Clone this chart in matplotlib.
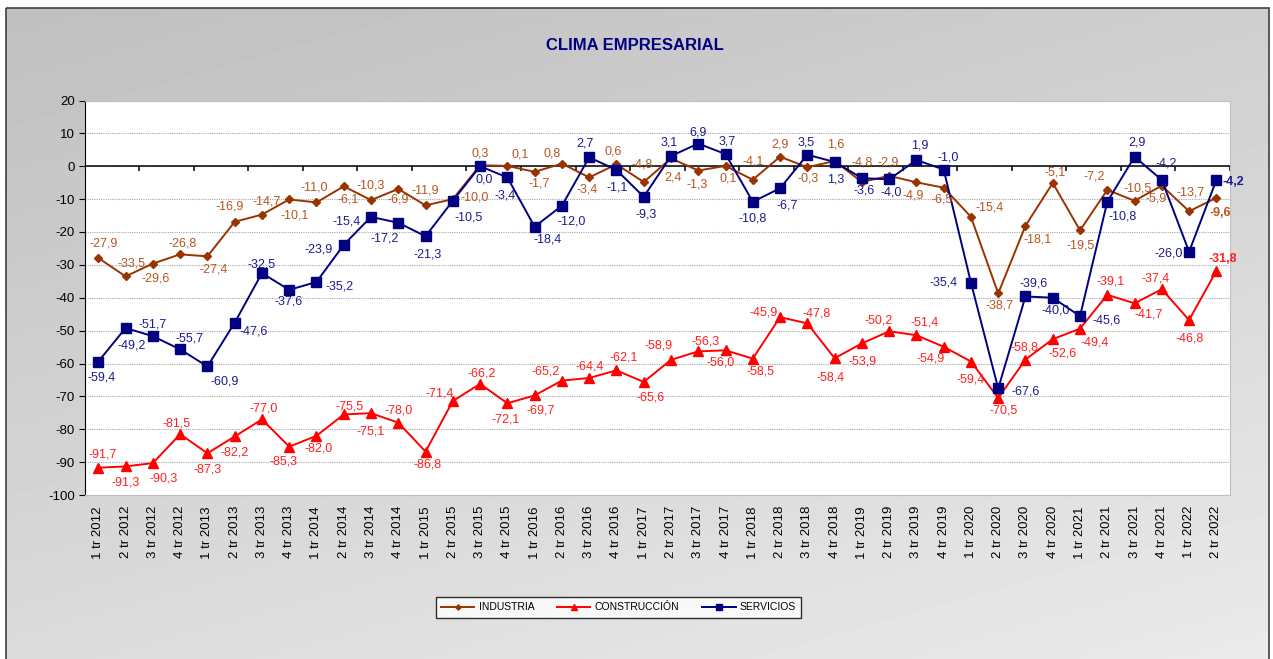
import matplotlib
matplotlib.use("Agg")
import matplotlib.pyplot as plt
import numpy as np
from matplotlib.patches import Rectangle

plt.rcParams['font.family'] = ['Liberation Sans', 'DejaVu Sans']
plt.rcParams['axes.unicode_minus'] = False

# quarters 1 tr 2012 .. 2 tr 2022
quarters = [f"{q} tr {y}" for y in range(2012, 2023) for q in range(1, 5)][:42]

industria = [-27.9, -33.5, -29.6, -26.8, -27.4, -16.9, -14.7, -10.1, -11.0, -6.1,
             -10.3, -6.9, -11.9, -10.0, 0.3, 0.1, -1.7, 0.8, -3.4, 0.6,
             -4.8, 2.4, -1.3, 0.1, -4.1, 2.9, -0.3, 1.6, -4.8, -2.9,
             -4.9, -6.5, -15.4, -38.7, -18.1, -5.1, -19.5, -7.2, -10.5, -5.9,
             -13.7, -9.6]
construccion = [-91.7, -91.3, -90.3, -81.5, -87.3, -82.2, -77.0, -85.3, -82.0, -75.5,
                -75.1, -78.0, -86.8, -71.4, -66.2, -72.1, -69.7, -65.2, -64.4, -62.1,
                -65.6, -58.9, -56.3, -56.0, -58.5, -45.9, -47.8, -58.4, -53.9, -50.2,
                -51.4, -54.9, -59.4, -70.5, -58.8, -52.6, -49.4, -39.1, -41.7, -37.4,
                -46.8, -31.8]
servicios = [-59.4, -49.2, -51.7, -55.7, -60.9, -47.6, -32.5, -37.6, -35.2, -23.9,
             -15.4, -17.2, -21.3, -10.5, 0.0, -3.4, -18.4, -12.0, 2.7, -1.1,
             -9.3, 3.1, 6.9, 3.7, -10.8, -6.7, 3.5, 1.3, -3.6, -4.0,
             1.9, -1.0, -35.4, -67.6, -39.6, -40.0, -45.6, -10.8, 2.9, -4.2,
             -26.0, -4.2]

# label offsets in pixels (dx, dy up)
off_ind = [(5, 14), (6, 13), (3, -15), (2, 11), (6, -13), (-5, 15), (5, 13), (5, -16),
           (-2, 15), (4, -13), (0, 15), (0, -11), (0, 15), (22, 2), (0, 12), (13, 11),
           (5, -12), (-10, 10), (-2, -12), (-3, 13), (-2, 18), (2, -19), (-1, -14),
           (3, -13), (0, 18), (0, 12), (1, -11), (1, 16), (0, 20), (-1, 13), (-3, -13),
           (-2, -12), (19, 9), (1, -12), (12, -14), (2, 11), (1, -15), (-13, 13),
           (3, 12), (-6, -13), (2, 19), (4, -15)]
off_con = [(4, 13), (0, -16), (11, -15), (-4, 11), (0, -16), (0, -16), (2, 11), (-6, -15),
           (2, -13), (6, 8), (0, -18), (0, 12), (2, -13), (-13, 7), (2, 10), (-2, -16),
           (6, -15), (-16, 9), (1, 11), (7, 13), (7, -16), (-12, 14), (7, 10), (-5, -12),
           (8, -13), (-16, 5), (9, 10), (-4, -19), (1, -18), (-11, 11), (8, 13),
           (-13, -12), (0, -18), (5, -12), (-1, 12), (10, -14), (15, -14), (3, 13),
           (14, -11), (-6, 11), (1, -18), (6, 12)]
off_ser = [(3, -16), (6, -18), (0, 12), (9, 11), (17, -15), (19, -9), (0, 9), (-1, -12),
           (23, -5), (-25, -5), (-24, -5), (-14, -16), (2, -18), (16, -17), (4, -13),
           (-2, -18), (13, -13), (10, -16), (-4, 14), (1, -18), (2, -18), (-2, 14),
           (0, 11), (2, 13), (0, -17), (7, -17), (-1, 12), (1, -18), (2, -12), (2, -13),
           (3, 15), (5, 12), (-27, 0), (27, -3), (8, 13), (3, -13), (27, -4), (15, -15),
           (2, 14), (4, 17), (-20, -2), (17, -2)]

W, H = 1273, 659
fig = plt.figure(figsize=(W / 100, H / 100), dpi=100)
fig.patch.set_facecolor('white')

# chart area background with soft gradient
bg = fig.add_axes([0, 0, 1, 1], zorder=0)
bg.set_xlim(0, W)
bg.set_ylim(H, 0)
bg.axis('off')
gx, gy = np.meshgrid(np.linspace(0, 1, 200), np.linspace(0, 1, 100))
grad = 0.75 + 0.17 * (0.65 * gy + 0.35 * gx)
bg.imshow(grad, cmap='gray', vmin=0, vmax=1, extent=[6, 1269, 668, 8],
          aspect='auto', interpolation='bilinear')
bg.add_patch(Rectangle((6, 8), 1263, 660, fill=False, edgecolor='#404040', lw=1.2))

x0, x1, ytop, ybot = 84.7, 1230, 100.5, 495
ax = fig.add_axes([x0 / W, 1 - ybot / H, (x1 - x0) / W, (ybot - ytop) / H], zorder=1)
ax.set_facecolor('white')
x = np.arange(len(quarters))
ax.set_xlim(-0.5, len(quarters) - 0.5)
ax.set_ylim(-100, 20)
ax.set_yticks(np.arange(-100, 21, 10))
ax.yaxis.grid(True, color='#a8a8a8', linestyle=(0, (1, 1)), lw=0.8)
ax.set_axisbelow(True)
ax.tick_params(axis='y', direction='out', length=4, labelsize=9.5, pad=3, colors='black')
ax.set_xticks(x)
ax.set_xticklabels(quarters, rotation=90, fontsize=9.5)
ax.tick_params(axis='x', length=0, pad=8)
for s in ['top', 'right', 'bottom']:
    ax.spines[s].set_color('#c0c0c0')
ax.spines['left'].set_color('black')

# category axis crossing at 0
ax.axhline(0, color='black', lw=1.1, zorder=2)
ax.vlines(np.arange(-0.5, len(quarters), 2), -1.3, 0, color='black', lw=1.1, zorder=2)

series = [
    ('INDUSTRIA', industria, '#993300', '#b5561e', 'D', 4.5, off_ind),
    ('CONSTRUCCIÓN', construccion, '#ff0000', '#ff2020', '^', 6.5, off_con),
    ('SERVICIOS', servicios, '#000080', '#1c1c90', 's', 6.5, off_ser),
]
for i, (name, vals, col, lcol, mk, ms, offs) in enumerate(series):
    ax.plot(x, vals, color=col, lw=1.4, marker=mk, markersize=ms,
            markerfacecolor=col, markeredgecolor=col, label=name, zorder=3 + i)
    for j, v in enumerate(vals):
        txt = f"{v:.1f}".replace('.', ',')
        last = j == len(vals) - 1
        ax.annotate(txt, (x[j], v), xytext=offs[j], textcoords='offset pixels',
                    ha='center', va='center', fontsize=9, color=lcol,
                    fontweight='bold' if last else 'normal', zorder=10,
                    annotation_clip=False)

fig.text(635 / W, 1 - 45 / H, 'CLIMA EMPRESARIAL', ha='center', va='center',
         fontsize=12, fontweight='bold', color='#000080')

leg = fig.legend(loc='center', bbox_to_anchor=(618.5 / W, 1 - 607.5 / H), ncol=3,
                 fontsize=7.5, frameon=True, fancybox=False, handlelength=3.2,
                 columnspacing=2.2, handletextpad=0.4, borderpad=0.5, markerscale=0.6)
leg.get_frame().set_edgecolor('black')
leg.get_frame().set_linewidth(1.0)
leg.get_frame().set_facecolor('white')

fig.savefig('out.png', dpi=100)
